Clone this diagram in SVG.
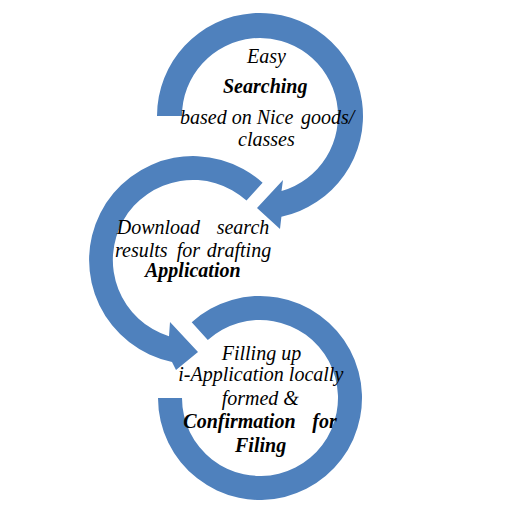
<svg xmlns="http://www.w3.org/2000/svg" width="512" height="512" viewBox="0 0 512 512">
<rect width="512" height="512" fill="#fff"/>
<g id="connectors" fill="#4F81BD">
<path id="arrow1" d="M157,116 A103,103 0 1 1 281.4,216.7 L280,229 L257,208 L283,180 L281.5,191 A78,78 0 1 0 182,116 Z"/>
<path id="arrow2" d="M262.6,182.7 A104,104 0 1 0 172,361.9 L176,370 L198,352 L170,322 L169,336.3 A80,80 0 1 1 246.5,200.6 Z"/>
<path id="arrow3" d="M158,398 A102,102 0 1 0 191.7,322.2 L207.8,340 A78,78 0 1 1 182,398 Z"/>
</g>
<g id="node1" font-family="Liberation Serif, Times New Roman, serif" font-size="20" font-style="italic" fill="#000">
<text x="247" y="63">Easy</text>
<text font-weight="bold" x="223" y="93">Searching</text>
<text x="180" y="124">based on Nice <tspan x="301">goods/</tspan></text>
<text x="238" y="146">classes</text>
</g>
<g id="node2" font-family="Liberation Serif, Times New Roman, serif" font-size="20" font-style="italic" fill="#000">
<text x="116.7" y="234">Download <tspan x="216.7">search</tspan></text>
<text x="115" y="256.7">results <tspan x="176.7">for</tspan> <tspan x="206.7">drafting</tspan></text>
<text font-weight="bold" x="145" y="276.7">Application</text>
</g>
<g id="node3" font-family="Liberation Serif, Times New Roman, serif" font-size="20" font-style="italic" fill="#000">
<text x="221.7" y="360">Filling up</text>
<text x="178.3" y="381">i-Application locally</text>
<text x="221.7" y="405">formed &amp;</text>
<text font-weight="bold" x="183.3" y="428.3">Confirmation <tspan x="312.3">for</tspan></text>
<text font-weight="bold" x="235" y="451.7">Filing</text>
</g>
</svg>
